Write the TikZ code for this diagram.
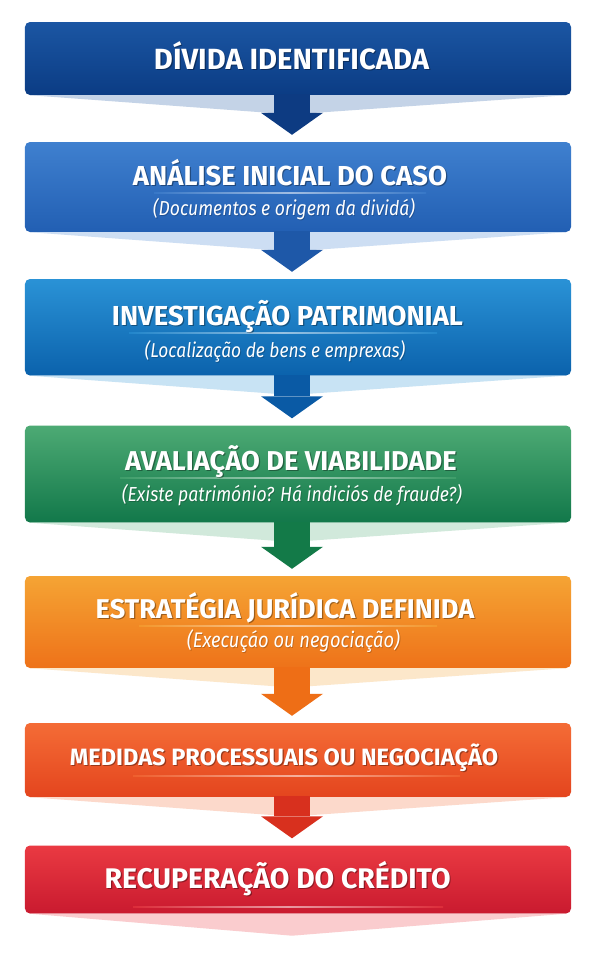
\documentclass[tikz,border=0pt]{standalone}
\usepackage{fontspec}
\setmainfont{Fira Sans}
\usetikzlibrary{calc}
\definecolor{ca}{HTML}{1B56A3}\definecolor{cab}{HTML}{0B3C84}\definecolor{caa}{HTML}{0D3B82}
\definecolor{cb}{HTML}{3F80CF}\definecolor{cbb}{HTML}{225FB3}\definecolor{cba}{HTML}{1E58A8}
\definecolor{cc}{HTML}{2A92D6}\definecolor{ccb}{HTML}{0B62AC}\definecolor{cca}{HTML}{0A5AA5}
\definecolor{cd}{HTML}{4DAA74}\definecolor{cdb}{HTML}{12784A}\definecolor{cda}{HTML}{137A48}
\definecolor{ce}{HTML}{F5A434}\definecolor{ceb}{HTML}{EE7219}\definecolor{cea}{HTML}{EE6E16}
\definecolor{cf}{HTML}{F46C36}\definecolor{cfb}{HTML}{E4451E}\definecolor{cfa}{HTML}{D8301E}
\definecolor{cg}{HTML}{EA3A42}\definecolor{cgb}{HTML}{C91A2F}
\tikzset{
  flowbox/.style={rectangle, rounded corners=5bp, minimum width=546bp, inner sep=0pt},
  ttl/.style={anchor=base, inner sep=0pt, text=white, font=\bfseries\fontsize{24}{24}\selectfont},
  ttlshadow/.style={ttl, text=black, opacity=0.35},
  subttl/.style={anchor=base, inner sep=0pt, text=white, font=\itshape\fontsize{16}{16}\selectfont},
  subshadow/.style={subttl, text=black, opacity=0.2},
}
\newcommand\boxtitle[5]{%
  \node[ttlshadow] (#1sh) at (#2+1.2,#3+1.5) {\resizebox{#4bp}{!}{#5}};
  \node[ttl] (#1) at (#2,#3) {\resizebox{#4bp}{!}{#5}};}
\newcommand\boxsub[5]{%
  \node[subshadow] (#1sh) at (#2+0.8,#3+1) {\scalebox{1}[1.15]{\resizebox{#4bp}{!}{#5}}};
  \node[subttl] (#1) at (#2,#3) {\scalebox{1}[1.15]{\resizebox{#4bp}{!}{#5}}};}
\newcommand\divline[4]{%
  \shade[left color=#4, right color=#4, middle color=white, opacity=0.55] (#1,#3-0.5) rectangle (#2,#3+0.5);}
\newcommand\flowarrow[4]{%
  \coordinate (#1tip) at ($(#2.north)+(-6,-7)$);
  \coordinate (#1s) at (#1.south -| #1tip);
  \shade[left color=#3!26!white, middle color=#3!58!white, right color=#3!26!white]
    ($(#1.south west)+(5,0)$) -- ($(#1s)+(-18,18)$) -- ($(#1s)+(18,18)$) -- ($(#1.south east)+(-5,0)$) -- cycle;
  \fill[#4] ($(#1s)+(-18,-1)$) rectangle ($(#1tip)+(18,-22)$);
  \fill[#4] ($(#1tip)+(-31,-22)$) -- (#1tip) -- ($(#1tip)+(31,-22)$) -- cycle;}
\begin{document}
\begin{tikzpicture}[x=1bp,y=-1bp]
\useasboundingbox (0,0) rectangle (596,964);
\fill[white] (0,0) rectangle (596,964);
% boxes
\node[flowbox, top color=ca, bottom color=cab, minimum height=73bp] (b1) at (298,58.5) {};
\node[flowbox, top color=cb, bottom color=cbb, minimum height=90bp] (b2) at (298,187) {};
\node[flowbox, top color=cc, bottom color=ccb, minimum height=96.5bp] (b3) at (298,327.25) {};
\node[flowbox, top color=cd, bottom color=cdb, minimum height=97bp] (b4) at (298,474) {};
\node[flowbox, top color=ce, bottom color=ceb, minimum height=92bp] (b5) at (298,622) {};
\node[flowbox, top color=cf, bottom color=cfb, minimum height=74bp] (b6) at (298,760) {};
\node[flowbox, top color=cg, bottom color=cgb, minimum height=68bp] (b7) at (298,879.5) {};
% connectors
\flowarrow{b1}{b2}{ca}{caa}
\flowarrow{b2}{b3}{cb}{cba}
\flowarrow{b3}{b4}{cc}{cca}
\flowarrow{b4}{b5}{cd}{cda}
\flowarrow{b5}{b6}{ce}{cea}
\flowarrow{b6}{b7}{cf}{cfa}
\coordinate (endtip) at ($(b7.south)+(-6,22)$);
\shade[left color=cg!26!white, middle color=cg!58!white, right color=cg!26!white]
  ($(b7.south west)+(5,0)$) -- (endtip) -- ($(b7.south east)+(-5,0)$) -- cycle;
% dividers
\divline{154}{426}{193}{cb}
\divline{129}{437}{333}{cc}
\divline{120}{456}{478}{cd}
\divline{139}{437}{626}{ce}
\divline{133}{460}{776}{cf}
\divline{133}{443}{907}{cg}
% texts
\boxtitle{t1}{291.5}{69}{275}{DÍVIDA IDENTIFICADA}
\boxtitle{t2}{290}{185}{314}{ANÁLISE INICIAL DO CASO}
\boxtitle{t3}{287.5}{325}{351}{INVESTIGAÇÃO PATRIMONIAL}
\boxtitle{t4}{291}{470}{331.5}{AVALIAÇÃO DE VIABILIDADE}
\boxtitle{t5}{285}{618}{378.5}{ESTRATÉGIA JURÍDICA DEFINIDA}
\boxtitle{t6}{284}{765}{428.4}{MEDIDAS PROCESSUAIS OU NEGOCIAÇÃO}
\boxtitle{t7}{277.6}{888}{346}{RECUPERAÇÃO DO CRÉDITO}
\boxsub{s2}{284}{215}{262}{(Documentos e origem da dividá)}
\boxsub{s3}{275}{357}{260.5}{(Localização de bens e emprexas)}
\boxsub{s4}{292}{501}{340}{(Existe património? Há indiciós de fraude?)}
\boxsub{s5}{293.5}{647}{213}{(Execuçáo ou negociação)}
\end{tikzpicture}
\end{document}
